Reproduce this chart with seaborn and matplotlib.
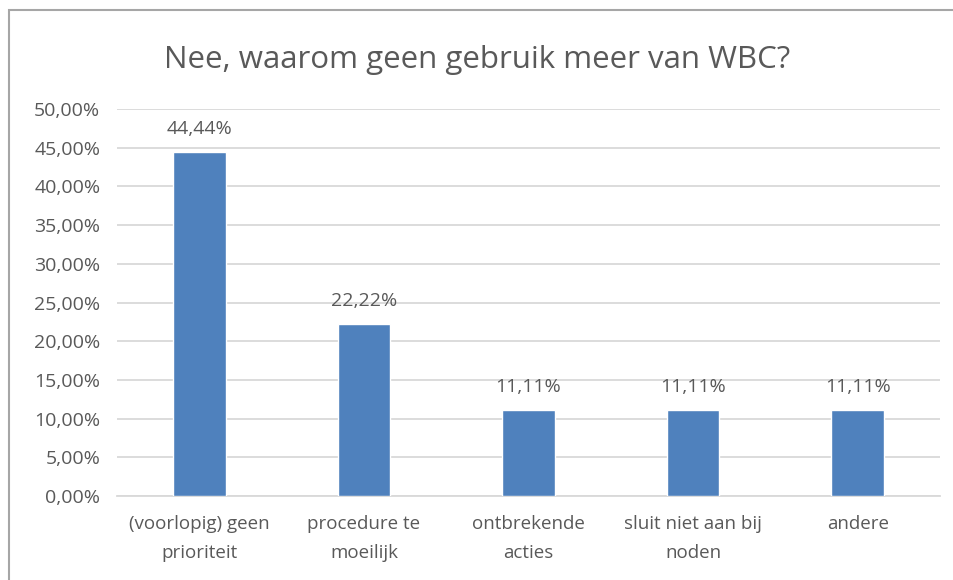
import seaborn as sns
import matplotlib.pyplot as plt
import pandas as pd
from matplotlib.patches import Rectangle

categories = ["(voorlopig) geen\nprioriteit", "procedure te\nmoeilijk", "ontbrekende\nacties",
              "sluit niet aan bij\nnoden", "andere"]
values = [0.4444, 0.2222, 0.1111, 0.1111, 0.1111]
yticks = [0.0, 0.05, 0.10, 0.15, 0.20, 0.25, 0.30, 0.35, 0.40, 0.45, 0.50]

title = "Nee, waarom geen gebruik meer van WBC?"
text_color = "#595959"

sns.set_style("white")
plt.rcParams['font.family'] = ['Open Sans', 'DejaVu Sans']

df = pd.DataFrame({"reden": categories, "aandeel": values})

fig = plt.figure(figsize=(9.54, 5.8), dpi=100)
ax = fig.add_axes([117 / 954, 1 - 496 / 580, (940 - 117) / 954, (496 - 109) / 580])

sns.barplot(data=df, x="reden", y="aandeel", color="#4F81BD", width=0.32,
            saturation=1, ax=ax, zorder=3)

ax.set_ylim(0, 0.5)
ax.set_yticks(yticks)
ax.set_yticklabels([f"{t * 100:.2f}%".replace(".", ",") for t in yticks])
ax.yaxis.grid(True, color="#D9D9D9", linewidth=1.3, zorder=0)
ax.set_axisbelow(True)
for s in ["top", "right", "left"]:
    ax.spines[s].set_visible(False)
ax.spines["bottom"].set_color("#D9D9D9")
ax.spines["bottom"].set_linewidth(1.3)
ax.tick_params(axis="y", length=0, labelsize=14, colors=text_color, pad=12)
ax.tick_params(axis="x", length=0, labelsize=13.5, colors=text_color, pad=14)
ax.set_xlabel("")
ax.set_ylabel("")

for lbl in ax.get_xticklabels():
    lbl.set_linespacing(1.75)

for i, v in enumerate(values):
    ax.annotate(f"{v * 100:.2f}%".replace(".", ","), (i, v), xytext=(0, 10),
                textcoords="offset points", ha="center", va="bottom",
                fontsize=14, color=text_color)

fig.text(0.5, 1 - 60 / 580, title, ha="center", va="center", fontsize=22.5, color=text_color)

fig.patches.append(Rectangle((9 / 954, -0.1), 1.2, 1 - 10 / 580 + 0.1, transform=fig.transFigure,
                             fill=False, edgecolor="#A6A6A6", linewidth=1.5))

fig.savefig("out.png", dpi=100)
